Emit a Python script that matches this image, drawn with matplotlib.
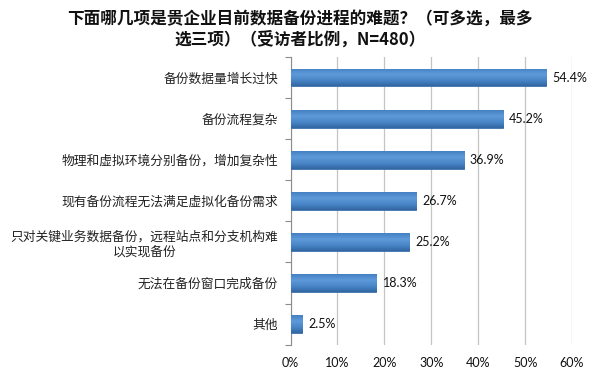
import numpy as np
import matplotlib
matplotlib.use('Agg')
import matplotlib.pyplot as plt
from matplotlib.ticker import FixedLocator, FuncFormatter

plt.rcParams['font.family'] = ['Noto Sans CJK SC', 'DejaVu Sans']

# data
categories = ['备份数据量增长过快',
              '备份流程复杂',
              '物理和虚拟环境分别备份，增加复杂性',
              '现有备份流程无法满足虚拟化备份需求',
              '只对关键业务数据备份，远程站点和分支机构难\n以实现备份',
              '无法在备份窗口完成备份',
              '其他']
values = [54.4, 45.2, 36.9, 26.7, 25.2, 18.3, 2.5]
xticks = [0, 10, 20, 30, 40, 50, 60]
title = '下面哪几项是贵企业目前数据备份进程的难题？（可多选，最多\n选三项）（受访者比例，N=480）'

fig = plt.figure(figsize=(6.04, 3.73), dpi=100)
ax = fig.add_axes([0.481, 0.076, 0.466, 0.771])

y = np.arange(len(categories))
bars = ax.barh(y, values, height=0.43, color='#4a86c6', edgecolor='#3b70ab',
               linewidth=0.6, zorder=3)

# vertical gradient on each bar, like the office chart style
grad = np.linspace(0, 1, 64).reshape(-1, 1)
cmap = matplotlib.colors.LinearSegmentedColormap.from_list(
    'bar', ['#4580c2', '#5e9ad9', '#4a87c8', '#3266a3'])
for b in bars:
    x0, y0 = b.get_x(), b.get_y()
    w, h = b.get_width(), b.get_height()
    im = ax.imshow(grad, cmap=cmap, aspect='auto', extent=(x0, x0 + w, y0 + h, y0),
                   zorder=4)
    im.set_clip_path(b)

for yi, v in zip(y, values):
    ax.annotate(f'{v:.1f}%', (v, yi), xytext=(4.5, 0), textcoords='offset points',
                va='center', ha='left', fontsize=9, family=['Lato', 'DejaVu Sans'],
                color='#111111', zorder=5)

ax.set_xlim(0, 60)
ax.set_ylim(len(categories) - 0.5, -0.5)
ax.xaxis.set_major_locator(FixedLocator(xticks))
ax.xaxis.set_major_formatter(FuncFormatter(lambda v, p: f'{v:.0f}%'))
ax.tick_params(axis='x', length=0, pad=9, labelsize=9, labelcolor='#111111')
for lab in ax.get_xticklabels():
    lab.set_family(['Lato', 'DejaVu Sans'])
ax.grid(axis='x', color='#c4c4c4', linewidth=0.9, zorder=0)

ax.set_yticks(y)
ax.set_yticklabels(categories, fontsize=9.2, color='#222222',
                   multialignment='center', linespacing=1.3)
ax.tick_params(axis='y', which='major', length=0, pad=9)
ax.yaxis.set_minor_locator(FixedLocator(np.arange(len(categories) + 1) - 0.5))
ax.tick_params(axis='y', which='minor', length=4, color='#8c8c8c', width=0.8)

for s in ['top', 'right', 'bottom']:
    ax.spines[s].set_visible(False)
ax.spines['left'].set_color('#8c8c8c')
ax.spines['left'].set_linewidth(0.8)

fig.text(0.497, 0.975, title, ha='center', va='top', fontsize=12,
         fontweight='bold', linespacing=1.25, color='#111111')

fig.savefig('out.png', dpi=100)
